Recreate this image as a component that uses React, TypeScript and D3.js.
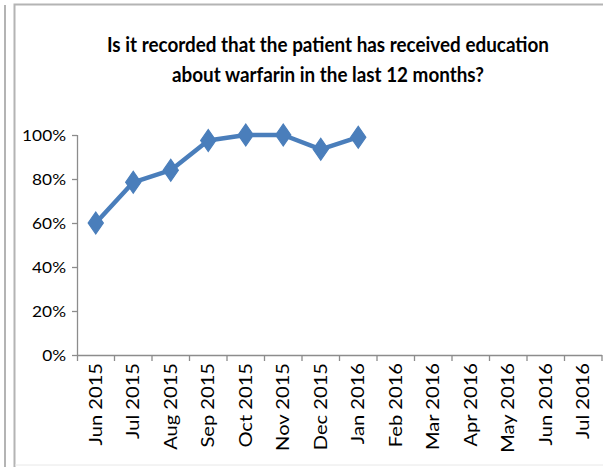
import React, { useEffect, useRef } from "react";
import * as d3 from "d3";

const categories = ["Jun 2015","Jul 2015","Aug 2015","Sep 2015","Oct 2015","Nov 2015","Dec 2015","Jan 2016","Feb 2016","Mar 2016","Apr 2016","May 2016","Jun 2016","Jul 2016"];
const values: (number | null)[] = [0.60,0.785,0.84,0.975,1.0,1.0,0.935,0.99,null,null,null,null,null,null];
const yTicks = [0,0.2,0.4,0.6,0.8,1.0];
const titleLines = ["Is it recorded that the patient has received education","about warfarin in the last 12 months?"];

export default function App() {
  const ref = useRef<SVGSVGElement>(null);
  useEffect(() => {
    const svg = d3.select(ref.current);
    svg.selectAll("*").remove();
    const W = 603, H = 467;
    const left = 77, right = 602, top = 135, bottom = 355;
    const x = d3.scaleBand<string>().domain(categories).range([left, right]);
    const y = d3.scaleLinear().domain([0, 1]).range([bottom, top]);

    svg.append("rect").attr("width", W).attr("height", H).attr("fill", "#fff");
    // frames
    svg.append("line").attr("x1", 5).attr("x2", 5).attr("y1", 5).attr("y2", H).attr("stroke", "#b4b4b4").attr("stroke-width", 2);
    svg.append("path").attr("d", `M14.5,${H} V4.5 H${W + 2}`).attr("fill", "none").attr("stroke", "#b4b4b4").attr("stroke-width", 2);
    svg.append("line").attr("x1", 15).attr("x2", W).attr("y1", 465).attr("y2", 465).attr("stroke", "#e8e8e8").attr("stroke-width", 1);

    // title
    const tl = [442, 312];
    titleLines.forEach((t, i) => {
      svg.append("text").text(t)
        .attr("x", 328).attr("y", 52 + i * 30)
        .attr("text-anchor", "middle")
        .attr("font-family", "Lato, 'Open Sans', sans-serif")
        .attr("font-weight", 700).attr("font-size", 20)
        .attr("fill", "#000")
        .attr("textLength", tl[i]).attr("lengthAdjust", "spacingAndGlyphs");
    });

    const axisColor = "#8c8c8c";
    // y axis
    svg.append("line").attr("x1", left + 0.5).attr("x2", left + 0.5).attr("y1", top).attr("y2", bottom + 6).attr("stroke", axisColor).attr("stroke-width", 1.3);
    yTicks.forEach(v => {
      svg.append("line").attr("x1", left - 5).attr("x2", left).attr("y1", y(v) + 0.5).attr("y2", y(v) + 0.5).attr("stroke", axisColor).attr("stroke-width", 1.3);
      svg.append("text").text(d3.format(".0%")(v))
        .attr("x", 66).attr("y", y(v)).attr("dy", "0.36em")
        .attr("text-anchor", "end")
        .attr("font-family", "Lato, sans-serif").attr("font-size", 16).attr("fill", "#000")
        .attr("transform", `translate(66,0) scale(1.08,1) translate(-66,0)`);
    });
    // x axis
    svg.append("line").attr("x1", left).attr("x2", right).attr("y1", bottom + 0.5).attr("y2", bottom + 0.5).attr("stroke", axisColor).attr("stroke-width", 1.3);
    categories.forEach((c, i) => {
      const bx = (x(c) as number) + x.bandwidth();
      svg.append("line").attr("x1", bx).attr("x2", bx).attr("y1", bottom).attr("y2", bottom + 6).attr("stroke", axisColor).attr("stroke-width", 1.3);
      const cx = (x(c) as number) + x.bandwidth() / 2;
      svg.append("text").text(c)
        .attr("transform", `translate(${cx + 6},${bottom + 8}) rotate(-90) scale(1.22,1)`)
        .attr("text-anchor", "end")
        .attr("font-family", "Lato, sans-serif").attr("font-size", 16.5).attr("fill", "#000");
    });

    const pts = categories.map((c, i) => ({ c, v: values[i] })).filter(d => d.v !== null) as { c: string; v: number }[];
    const line = d3.line<{ c: string; v: number }>()
      .x(d => (x(d.c) as number) + x.bandwidth() / 2)
      .y(d => y(d.v));
    const blue = "#4a7ebb";
    svg.append("path").datum(pts).attr("d", line).attr("fill", "none").attr("stroke", blue).attr("stroke-width", 4.5).attr("stroke-linejoin", "round").attr("stroke-linecap", "round");
    const sym = d3.symbol().type(d3.symbolDiamond).size(140);
    svg.selectAll("path.m").data(pts).enter().append("path").attr("class", "m")
      .attr("d", sym as any)
      .attr("transform", d => `translate(${(x(d.c) as number) + x.bandwidth() / 2},${y(d.v)}) scale(1.2,1)`)
      .attr("fill", blue).attr("stroke", blue).attr("stroke-width", 1);
  }, []);
  return (
    <svg ref={ref} width={603} height={467} style={{ position: "absolute", left: 0, top: 0, display: "block" }} />
  );
}
